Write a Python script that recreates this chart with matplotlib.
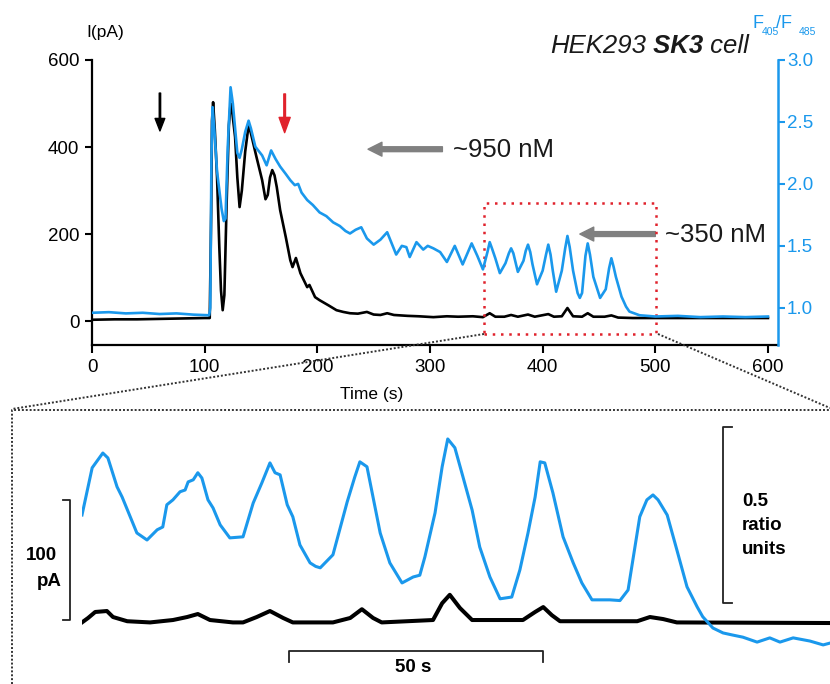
import matplotlib.pyplot as plt
from matplotlib.patches import Rectangle
from matplotlib.lines import Line2D

plt.rcParams['font.family'] = ['Liberation Sans', 'DejaVu Sans']

BLUE = '#1a98ec'
RED = '#e0222c'
W, H = 830, 684

# top panel, whole recording
t_ratio_top = [0, 15, 30, 45, 60, 75, 90, 104, 105, 106, 107, 108.5, 111, 115, 117, 118.5,
               120.5, 123, 125, 127, 129, 131, 133, 136, 139, 141, 145, 151, 155, 159, 163,
               167, 172, 176, 180, 183, 186, 191, 196, 202, 208, 214, 220, 225, 229, 234,
               239, 244, 250, 256, 262, 266, 270, 275, 279, 282, 288, 294, 298, 303, 309,
               315, 322, 329, 337, 342, 347, 351, 353, 355, 358, 362, 367, 370, 372, 374,
               378, 383, 385, 387, 389, 391, 395, 400, 403, 405, 407, 409, 412, 417, 420,
               422, 424, 427, 431, 433, 435, 438, 440, 442, 445, 451, 456, 459, 461, 463,
               465, 470, 474, 477, 486, 500, 520, 540, 560, 580, 600]
ratio_top = [0.96, 0.965, 0.955, 0.96, 0.95, 0.955, 0.945, 0.94, 1.0, 2.2, 2.62, 2.45, 2.10,
             1.80, 1.70, 1.72, 2.30, 2.78, 2.65, 2.45, 2.25, 2.21, 2.28, 2.42, 2.51, 2.45,
             2.30, 2.23, 2.15, 2.27, 2.20, 2.14, 2.08, 2.03, 1.99, 2.00, 1.93, 1.87, 1.83,
             1.77, 1.74, 1.69, 1.66, 1.62, 1.60, 1.63, 1.65, 1.56, 1.51, 1.55, 1.61, 1.52,
             1.43, 1.50, 1.49, 1.41, 1.53, 1.47, 1.50, 1.48, 1.45, 1.37, 1.50, 1.35, 1.52,
             1.42, 1.31, 1.45, 1.53, 1.48, 1.40, 1.28, 1.36, 1.44, 1.48, 1.44, 1.29, 1.38,
             1.46, 1.51, 1.45, 1.35, 1.19, 1.30, 1.43, 1.51, 1.43, 1.30, 1.13, 1.30, 1.48,
             1.58, 1.49, 1.30, 1.12, 1.08, 1.12, 1.42, 1.52, 1.43, 1.25, 1.08, 1.15, 1.32,
             1.40, 1.33, 1.25, 1.09, 1.01, 0.97, 0.94, 0.93, 0.935, 0.925, 0.93, 0.925, 0.93]

t_current_top = [0, 20, 40, 60, 80, 100, 104.5, 105.8, 106.5, 107.5, 109, 111, 113, 114.5,
                 116, 117.5, 119.5, 121.5, 123, 124.5, 127, 129, 131, 133, 136, 139, 141,
                 146, 151, 154, 156, 158, 160, 162, 164, 167, 172, 176, 178, 181, 185, 191,
                 193, 198, 202, 210, 217, 223, 229, 236, 244, 250, 256, 262, 268, 280, 290,
                 303, 315, 325, 338, 347, 353, 358, 366, 372, 378, 387, 393, 405, 410, 417,
                 422, 427, 435, 440, 445, 455, 461, 467, 480, 520, 560, 600]
current_top = [3, 4, 4, 5, 6, 7, 7, 250, 460, 503, 440, 330, 170, 70, 25, 60, 271, 450, 500,
               480, 423, 330, 262, 300, 390, 450, 432, 377, 324, 280, 290, 330, 347, 335, 308,
               255, 193, 140, 124, 145, 110, 78, 83, 55, 48, 36, 25, 21, 18, 17, 21, 15, 14,
               18, 14, 12, 11, 9, 11, 10, 11, 9, 18, 10, 10, 14, 10, 15, 10, 16, 10, 11, 30,
               11, 10, 18, 10, 10, 13, 8, 7, 7, 7, 7]

# bottom panel, expanded 349-496 s
t_ratio_zoom = [349.0, 351.0, 353.1, 354.1, 355.9, 356.9, 359.8, 361.8, 363.8, 364.9, 365.7,
                366.9, 368.3, 369.3, 369.9, 370.9, 371.8, 372.6, 373.8, 374.8, 376.2, 378.1,
                380.7, 382.7, 384.4, 386.0, 387.0, 388.0, 389.4, 390.5, 391.9, 393.9, 395.0,
                395.9, 398.4, 401.2, 402.7, 403.7, 405.1, 407.7, 409.6, 412.0, 414.2, 415.5,
                416.5, 418.5, 419.9, 421.0, 422.4, 424.0, 425.8, 427.3, 429.3, 431.3, 433.6,
                435.2, 436.8, 438.2, 439.2, 440.1, 441.7, 443.7, 445.7, 447.4, 449.4, 452.9,
                454.9, 456.5, 458.8, 460.2, 461.4, 462.4, 464.2, 466.1, 468.1, 470.1, 471.2,
                473.2, 475.2, 477.1, 479.1, 481.9, 484.4, 486.4, 489.0, 492.3, 494.9, 496.2]
ratio_zoom = [1.361, 1.495, 1.537, 1.523, 1.441, 1.412, 1.310, 1.290, 1.319, 1.327, 1.390,
              1.404, 1.427, 1.432, 1.455, 1.461, 1.481, 1.466, 1.404, 1.381, 1.333, 1.296,
              1.299, 1.395, 1.452, 1.509, 1.481, 1.475, 1.390, 1.356, 1.276, 1.225, 1.215,
              1.211, 1.248, 1.398, 1.469, 1.512, 1.498, 1.310, 1.225, 1.168, 1.185, 1.190,
              1.242, 1.367, 1.498, 1.577, 1.552, 1.469, 1.375, 1.270, 1.185, 1.123, 1.128,
              1.205, 1.310, 1.412, 1.512, 1.509, 1.424, 1.299, 1.225, 1.168, 1.120, 1.120,
              1.118, 1.148, 1.356, 1.404, 1.418, 1.404, 1.361, 1.262, 1.157, 1.100, 1.072,
              1.040, 1.026, 1.020, 1.014, 1.000, 1.012, 1.000, 1.012, 1.003, 0.992, 0.997]

t_current_zoom = [349.0, 350.2, 351.6, 353.9, 355.1, 357.9, 362.4, 366.9, 369.7, 371.8, 374.2,
                  378.7, 380.7, 383.4, 386.0, 388.6, 390.5, 398.4, 401.8, 404.1, 406.3, 408.0,
                  418.1, 419.9, 421.4, 423.4, 425.8, 435.8, 438.2, 439.8, 441.5, 443.1, 458.3,
                  460.8, 463.4, 466.1, 496.2]
current_zoom = [10, 13.7, 18.7, 19.5, 14.5, 11, 10, 12, 14.5, 17, 12, 10, 10, 14.5, 19.5, 13.7,
                10, 10, 13.7, 21, 13.7, 10, 12, 26, 33, 22, 12, 12, 18.7, 22.8, 16, 11, 11,
                14.5, 12.8, 10, 9.5]


def fx(px):
    return px / W


def fy(py):
    return 1 - py / H


fig = plt.figure(figsize=(8.3, 6.84), dpi=100)

# ---- top panel ----
ax = fig.add_axes([fx(92), fy(345), fx(778) - fx(92), fy(60) - fy(345)])
axr = ax.twinx()
ax.plot(t_current_top, current_top, color='black', lw=1.9, solid_joinstyle='round')
axr.plot(t_ratio_top, ratio_top, color=BLUE, lw=1.9, solid_joinstyle='round')

ax.set_xlim(0, 608.9)
ax.set_ylim(-55, 600)
axr.set_ylim(0.70, 3.0)
ax.set_xticks([0, 100, 200, 300, 400, 500, 600])
ax.set_yticks([0, 200, 400, 600])
axr.set_yticks([1.0, 1.5, 2.0, 2.5, 3.0])
axr.set_yticklabels(['1.0', '1.5', '2.0', '2.5', '3.0'])

for s in ['top', 'right']:
    ax.spines[s].set_visible(False)
for s in ['top', 'left', 'bottom']:
    axr.spines[s].set_visible(False)
ax.spines['left'].set_linewidth(1.6)
ax.spines['bottom'].set_linewidth(1.6)
axr.spines['right'].set_linewidth(1.8)
axr.spines['right'].set_color(BLUE)
ax.patch.set_visible(False)

ax.tick_params(axis='y', direction='out', length=5, width=1.5, labelsize=13.5, pad=4)
ax.tick_params(axis='x', direction='out', length=6, width=1.5, labelsize=13.5, pad=4)
axr.tick_params(axis='y', direction='out', length=5, width=1.5, labelsize=13.5, pad=1.5,
                colors=BLUE)

# stimulus arrows
ax.annotate('', xy=(60.3, 437), xytext=(60.3, 524),
            arrowprops=dict(color='black', width=1.0, headwidth=7, headlength=9))
ax.annotate('', xy=(171, 433), xytext=(171, 522),
            arrowprops=dict(color=RED, width=1.2, headwidth=8, headlength=11))

# concentration arrows
ax.annotate('', xy=(245, 395), xytext=(311, 395),
            arrowprops=dict(color='#808080', width=3.5, headwidth=10, headlength=10))
ax.text(320.4, 393, '~950 nM', fontsize=18.5, va='center', color='#1a1a1a')
ax.annotate('', xy=(433, 200), xytext=(500, 200),
            arrowprops=dict(color='#808080', width=3.5, headwidth=10, headlength=10))
ax.text(508.6, 198, '~350 nM', fontsize=18.5, va='center', color='#1a1a1a')

# zoom box
ax.add_patch(Rectangle((348, -30), 153, 301, fill=False, edgecolor=RED, lw=1.8,
                       linestyle=(0, (1, 2.3)), zorder=6, clip_on=False))

# axis labels
fig.text(fx(105), fy(32), 'I(pA)', ha='center', va='center', fontsize=12.5)
fig.text(fx(372), fy(394), 'Time (s)', ha='center', va='center', fontsize=12.5)

t1 = fig.text(fx(550), fy(53), 'HEK293', fontsize=18.5, style='italic', va='baseline',
              color='#1a1a1a')
t2 = ax.annotate(' SK3', xy=(1, 0), xycoords=t1, fontsize=18.5, style='italic',
                 weight='bold', va='bottom', color='#1a1a1a')
ax.annotate(' cell', xy=(1, 0), xycoords=t2, fontsize=18.5, style='italic', va='bottom',
            color='#1a1a1a')

fig.text(fx(752), fy(28), 'F', fontsize=13, color=BLUE, va='baseline')
fig.text(fx(762), fy(35), '405', fontsize=7.5, color=BLUE, va='baseline')
fig.text(fx(776), fy(28), '/F', fontsize=13, color=BLUE, va='baseline')
fig.text(fx(799), fy(35), '485', fontsize=7.5, color=BLUE, va='baseline')

# connectors and frame of the expanded view
dots = dict(color='#333333', lw=1.4, linestyle=(0, (1, 1)))
fig.add_artist(Line2D([fx(484), fx(12)], [fy(334), fy(409)], **dots))
fig.add_artist(Line2D([fx(658), fx(830)], [fy(334), fy(408)], **dots))
fig.add_artist(Line2D([fx(12), fx(12), fx(830)], [fy(684), fy(410), fy(410)], **dots))

# ---- bottom panel ----
axb = fig.add_axes([fx(82), 0, fx(830) - fx(82), fy(415)])
axb.axis('off')
axb.set_xlim(349, 496.25)
axb.set_ylim(-41.3, 182.8)
axb.plot(t_current_zoom, current_zoom, color='black', lw=2.9, solid_joinstyle='round')

axbb = axb.twinx()
axbb.axis('off')
axbb.set_ylim(0.881, 1.645)
axbb.plot(t_ratio_zoom, ratio_zoom, color=BLUE, lw=2.2, solid_joinstyle='round')

bar = dict(color='#222222', lw=1.3, clip_on=False)
axb.plot([345.26, 346.64, 346.64, 345.26], [112, 112, 12, 12], **bar)
axb.plot([389.75, 389.75, 439.75, 439.75], [-23, -13.8, -13.8, -23], **bar)
axbb.plot([476.95, 475.18, 475.18, 476.95], [1.611, 1.611, 1.111, 1.111], **bar)

fig.text(fx(41), fy(555), '100', ha='center', va='center', fontsize=13.5, weight='bold')
fig.text(fx(49), fy(582), 'pA', ha='center', va='center', fontsize=13.5, weight='bold')
fig.text(fx(742), fy(502), '0.5', ha='left', va='center', fontsize=13.5, weight='bold')
fig.text(fx(742), fy(526), 'ratio', ha='left', va='center', fontsize=13.5, weight='bold')
fig.text(fx(742), fy(549), 'units', ha='left', va='center', fontsize=13.5, weight='bold')
fig.text(fx(413), fy(667), '50 s', ha='center', va='center', fontsize=13.5, weight='bold')

fig.savefig('out.png', dpi=100)
